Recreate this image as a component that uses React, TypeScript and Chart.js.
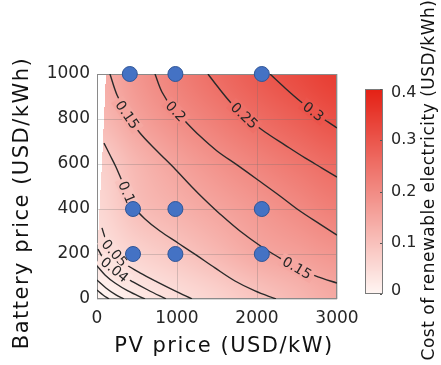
import React, { useEffect, useRef } from "react";
import { Chart, registerables } from "chart.js";

Chart.register(...registerables);

const FONT = '"DejaVu Sans", "Noto Sans", sans-serif';
const TEXT = "#262626";

// Axis ticks
const pvTicks = [0, 1000, 2000, 3000];
const batteryTicks = [0, 200, 400, 600, 800, 1000];
const colorTicks = [0, 0.1, 0.2, 0.3, 0.4];
const colorMin = 0;
const colorMax = 0.4;

// Cost of renewable electricity (USD/kWh) on a regular price grid
const gridPv = [0, 500, 1000, 1500, 2000, 2500, 3000];
const gridBattery = [0, 200, 400, 600, 800, 1000];
const costBattery0 = [0.0, 0.025, 0.045, 0.066, 0.092, 0.117, 0.142];
const costBattery200 = [0.037, 0.065, 0.089, 0.116, 0.145, 0.162, 0.18];
const costBattery400 = [0.055, 0.103, 0.128, 0.152, 0.176, 0.2, 0.223];
const costBattery600 = [0.07, 0.12, 0.156, 0.186, 0.213, 0.238, 0.261];
const costBattery800 = [0.11, 0.157, 0.195, 0.226, 0.256, 0.283, 0.309];
const costBattery1000 = [0.13, 0.18, 0.221, 0.257, 0.29, 0.319, 0.345];
const costGrid = [costBattery0, costBattery200, costBattery400, costBattery600, costBattery800, costBattery1000];

// Lowest PV price with a solution, per battery price
const domainBattery = [0, 170, 440, 600, 1000];
const domainPvMin = [0, 0, 37, 62, 112];

// Contour lines, [PV price, battery price]
const contour001 = [[0, 40], [75, 18], [150, 0]];
const contour002 = [[0, 84], [112, 49], [237, 18], [337, 0]];
const contour003 = [[0, 147], [100, 107], [225, 71], [387, 36], [600, 0]];
const contour004 = [[12, 222], [75, 182], [162, 147], [287, 111], [450, 76], [637, 40], [862, 0]];
const contour005 = [[62, 316], [112, 262], [175, 222], [262, 187], [375, 151], [537, 116], [750, 76], [975, 36], [1187, 0]];
const contour010 = [[87, 693], [162, 640], [237, 587], [312, 524], [387, 462], [462, 409], [600, 356], [787, 302], [1012, 249], [1237, 196], [1475, 138], [1725, 80], [1975, 36], [2237, 0]];
const contour015 = [[162, 1000], [250, 907], [375, 822], [537, 738], [750, 658], [975, 578], [1187, 498], [1350, 440], [1537, 378], [1787, 302], [2062, 231], [2287, 182], [2500, 138], [2762, 98], [3000, 71]];
const contour020 = [[725, 1000], [812, 920], [937, 853], [1100, 791], [1287, 724], [1500, 658], [1750, 596], [2012, 529], [2287, 458], [2537, 391], [2787, 333], [3000, 284]];
const contour025 = [[1387, 1000], [1512, 942], [1687, 867], [1887, 800], [2100, 742], [2350, 684], [2600, 627], [2812, 582], [3000, 542]];
const contour030 = [[2162, 1000], [2350, 938], [2537, 880], [2725, 827], [2887, 787], [3000, 760]];
const contourLevels = [0.01, 0.02, 0.03, 0.04, 0.05, 0.1, 0.15, 0.2, 0.25, 0.3];
const contourPaths = [contour001, contour002, contour003, contour004, contour005, contour010, contour015, contour020, contour025, contour030];

// Inline contour labels
const labelLevels = [0.15, 0.2, 0.25, 0.3, 0.1, 0.15, 0.05, 0.04];
const labelPv = [375, 975, 1837, 2700, 350, 2500, 237, 237];
const labelBattery = [818, 831, 813, 831, 471, 138, 209, 138];

// Evaluated cases
const casePv = [410, 980, 2060, 450, 980, 2060, 450, 980, 2060];
const caseBattery = [1000, 1000, 1000, 400, 400, 400, 200, 200, 200];

const cmapLow = [255, 246, 243];
const cmapHigh = [228, 32, 20];

function interp1(xs: number[], ys: number[], x: number) {
  if (x <= xs[0]) return ys[0];
  for (let i = 1; i < xs.length; i++) {
    if (x <= xs[i]) {
      const t = (x - xs[i - 1]) / (xs[i] - xs[i - 1]);
      return ys[i - 1] + t * (ys[i] - ys[i - 1]);
    }
  }
  return ys[ys.length - 1];
}

function catmull(p0: number, p1: number, p2: number, p3: number, t: number) {
  return p1 + 0.5 * t * (p2 - p0 + t * (2 * p0 - 5 * p1 + 4 * p2 - p3 + t * (3 * (p1 - p2) + p3 - p0)));
}

function costAt(pv: number, bat: number) {
  const nx = gridPv.length;
  const ny = gridBattery.length;
  const fx = Math.max(0, Math.min(nx - 1, (pv - gridPv[0]) / (gridPv[1] - gridPv[0])));
  const fy = Math.max(0, Math.min(ny - 1, (bat - gridBattery[0]) / (gridBattery[1] - gridBattery[0])));
  const ix = Math.min(Math.floor(fx), nx - 2);
  const iy = Math.min(Math.floor(fy), ny - 2);
  const tx = fx - ix;
  const ty = fy - iy;
  const cx = (i: number) => Math.max(0, Math.min(nx - 1, i));
  const cy = (j: number) => Math.max(0, Math.min(ny - 1, j));
  const row = (j: number) => {
    const r = costGrid[cy(j)];
    return catmull(r[cx(ix - 1)], r[cx(ix)], r[cx(ix + 1)], r[cx(ix + 2)], tx);
  };
  return catmull(row(iy - 1), row(iy), row(iy + 1), row(iy + 2), ty);
}

function colorFor(v: number) {
  const t = Math.max(0, Math.min(1, (v - colorMin) / (colorMax - colorMin)));
  return [0, 1, 2].map((k) => Math.round(cmapLow[k] + t * (cmapHigh[k] - cmapLow[k])));
}

const fieldPlugin = {
  id: "costField",
  beforeDraw(chart: any) {
    const { ctx, chartArea, scales } = chart;
    const left = Math.round(chartArea.left);
    const top = Math.round(chartArea.top);
    const w = Math.round(chartArea.right) - left;
    const h = Math.round(chartArea.bottom) - top;
    const off = document.createElement("canvas");
    off.width = w;
    off.height = h;
    const octx = off.getContext("2d")!;
    const img = octx.createImageData(w, h);
    for (let py = 0; py < h; py++) {
      const bat = scales.y.getValueForPixel(top + py + 0.5);
      const pvMin = interp1(domainBattery, domainPvMin, bat);
      for (let px = 0; px < w; px++) {
        const pv = scales.x.getValueForPixel(left + px + 0.5);
        const o = (py * w + px) * 4;
        let c = [255, 255, 255];
        if (pv >= pvMin) c = colorFor(costAt(pv, bat));
        img.data[o] = c[0];
        img.data[o + 1] = c[1];
        img.data[o + 2] = c[2];
        img.data[o + 3] = 255;
      }
    }
    octx.putImageData(img, 0, 0);
    ctx.save();
    ctx.drawImage(off, left, top);
    ctx.restore();
  },
  beforeDatasetsDraw(chart: any) {
    const { ctx, chartArea } = chart;
    ctx.save();
    ctx.strokeStyle = "#8a8a8a";
    ctx.lineWidth = 1;
    ctx.strokeRect(chartArea.left + 0.5, chartArea.top + 0.5, chartArea.right - chartArea.left - 1, chartArea.bottom - chartArea.top - 1);
    ctx.restore();
  },
};

const labelPlugin = {
  id: "contourLabels",
  beforeDatasetDraw(chart: any, args: any) {
    if (args.index !== 0) return;
    const { ctx, scales, chartArea } = chart;
    ctx.save();
    ctx.beginPath();
    ctx.rect(chartArea.left, chartArea.top, chartArea.right - chartArea.left, chartArea.bottom - chartArea.top);
    ctx.clip();
    ctx.font = `14px ${FONT}`;
    ctx.textAlign = "center";
    ctx.textBaseline = "middle";
    labelLevels.forEach((level, i) => {
      const path = contourPaths[contourLevels.indexOf(level)];
      const pts = path.map(([x, y]) => [scales.x.getPixelForValue(x), scales.y.getPixelForValue(y)]);
      const lx = scales.x.getPixelForValue(labelPv[i]);
      const ly = scales.y.getPixelForValue(labelBattery[i]);
      let best = { d: Infinity, x: lx, y: ly, a: 0 };
      for (let k = 1; k < pts.length; k++) {
        const [x0, y0] = pts[k - 1];
        const [x1, y1] = pts[k];
        const dx = x1 - x0;
        const dy = y1 - y0;
        const len2 = dx * dx + dy * dy;
        const t = Math.max(0, Math.min(1, ((lx - x0) * dx + (ly - y0) * dy) / len2));
        const qx = x0 + t * dx;
        const qy = y0 + t * dy;
        const d = (qx - lx) ** 2 + (qy - ly) ** 2;
        if (d < best.d) best = { d, x: qx, y: qy, a: Math.atan2(dy, dx) };
      }
      const text = String(level);
      const tw = ctx.measureText(text).width;
      const c = colorFor(costAt(scales.x.getValueForPixel(best.x), scales.y.getValueForPixel(best.y)));
      ctx.save();
      ctx.translate(best.x, best.y);
      ctx.rotate(best.a);
      ctx.fillStyle = `rgb(${c[0]},${c[1]},${c[2]})`;
      ctx.fillRect(-tw / 2 - 3, -7, tw + 6, 14);
      ctx.fillStyle = TEXT;
      ctx.fillText(text, 0, 1);
      ctx.restore();
    });
    ctx.restore();
  },
};

const decorPlugin = {
  id: "decor",
  afterDraw(chart: any) {
    const { ctx } = chart;
    ctx.save();
    ctx.fillStyle = "#111";
    ctx.textAlign = "center";
    ctx.textBaseline = "middle";
    ctx.font = `21px ${FONT}`;
    (ctx as any).letterSpacing = "1.5px";
    ctx.fillText("PV price (USD/kW)", 224, 347);
    ctx.save();
    ctx.translate(23, 203);
    ctx.rotate(-Math.PI / 2);
    ctx.fillText("Battery price (USD/kWh)", 0, 0);
    ctx.restore();
    (ctx as any).letterSpacing = "0.5px";
    ctx.font = `17px ${FONT}`;
    ctx.save();
    ctx.translate(430, 180);
    ctx.rotate(-Math.PI / 2);
    ctx.fillText("Cost of renewable electricity (USD/kWh)", 0, 0);
    ctx.restore();
    (ctx as any).letterSpacing = "0px";

    // colour bar
    const bx = 365;
    const bw = 18;
    const by0 = 89;
    const by1 = 294;
    for (let y = by0; y < by1; y++) {
      const v = colorMax - ((y + 0.5 - by0) / (by1 - by0)) * (colorMax - colorMin);
      const c = colorFor(v);
      ctx.fillStyle = `rgb(${c[0]},${c[1]},${c[2]})`;
      ctx.fillRect(bx, y, bw, 1);
    }
    ctx.strokeStyle = "#7a7a7a";
    ctx.lineWidth = 1;
    ctx.strokeRect(bx + 0.5, by0 + 0.5, bw - 1, by1 - by0 - 1);
    ctx.font = `16px ${FONT}`;
    ctx.textAlign = "left";
    ctx.fillStyle = TEXT;
    colorTicks.forEach((v) => {
      const y = by1 - ((v - colorMin) / (colorMax - colorMin)) * (by1 - by0);
      ctx.beginPath();
      ctx.strokeStyle = "#555";
      ctx.moveTo(bx + bw - 3, Math.round(y) + 0.5);
      ctx.lineTo(bx + bw - 1, Math.round(y) + 0.5);
      ctx.stroke();
      ctx.fillText(String(v), bx + bw + 8, Math.min(Math.max(y, by0 + 4), by1 - 3));
    });
    ctx.restore();
  },
};

export default function App() {
  const ref = useRef<HTMLCanvasElement | null>(null);

  useEffect(() => {
    if (!ref.current) return;
    const contourSets = contourLevels.map((level, i) => ({
      label: String(level),
      data: contourPaths[i].map(([x, y]) => ({ x, y })),
      showLine: true,
      borderColor: "#2a2a2a",
      borderWidth: 1.4,
      pointRadius: 0,
      tension: 0.35,
      order: 1,
    }));
    const caseSet = {
      label: "cases",
      data: casePv.map((x, i) => ({ x, y: caseBattery[i] })),
      showLine: false,
      pointRadius: 7.5,
      pointBackgroundColor: "#4472c4",
      pointBorderColor: "#2f5597",
      pointBorderWidth: 1,
      clip: false as any,
      order: 0,
    };
    const chart = new Chart(ref.current, {
      type: "scatter",
      data: { datasets: [caseSet as any, ...contourSets] },
      options: {
        responsive: false,
        animation: false,
        events: [],
        layout: { padding: { left: 0, right: 104, top: 74, bottom: 0 } },
        plugins: { legend: { display: false }, tooltip: { enabled: false } },
        scales: {
          x: {
            type: "linear",
            min: 0,
            max: 3000,
            afterBuildTicks: (s: any) => {
              s.ticks = pvTicks.map((value) => ({ value }));
            },
            afterFit: (s: any) => {
              s.height = 66;
            },
            ticks: {
              font: { family: FONT, size: 17 },
              color: TEXT,
              padding: 9,
              maxRotation: 0,
              autoSkip: false,
              callback: (v: any) => String(v),
            },
            grid: { color: "rgba(110,110,110,0.28)", drawTicks: false },
            border: { display: false },
          },
          y: {
            type: "linear",
            min: 0,
            max: 1000,
            afterBuildTicks: (s: any) => {
              s.ticks = batteryTicks.map((value) => ({ value }));
            },
            afterFit: (s: any) => {
              s.width = 97;
            },
            ticks: {
              font: { family: FONT, size: 17 },
              color: TEXT,
              padding: 7,
              autoSkip: false,
              callback: (v: any) => String(v),
            },
            grid: { color: "rgba(110,110,110,0.28)", drawTicks: false },
            border: { display: false },
          },
        },
      },
      plugins: [fieldPlugin, labelPlugin, decorPlugin],
    });
    return () => chart.destroy();
  }, []);

  return (
    <div style={{ position: "fixed", left: 0, top: 0, width: 441, height: 365, background: "#fff" }}>
      <canvas ref={ref} width={441} height={365} style={{ display: "block" }} />
    </div>
  );
}
